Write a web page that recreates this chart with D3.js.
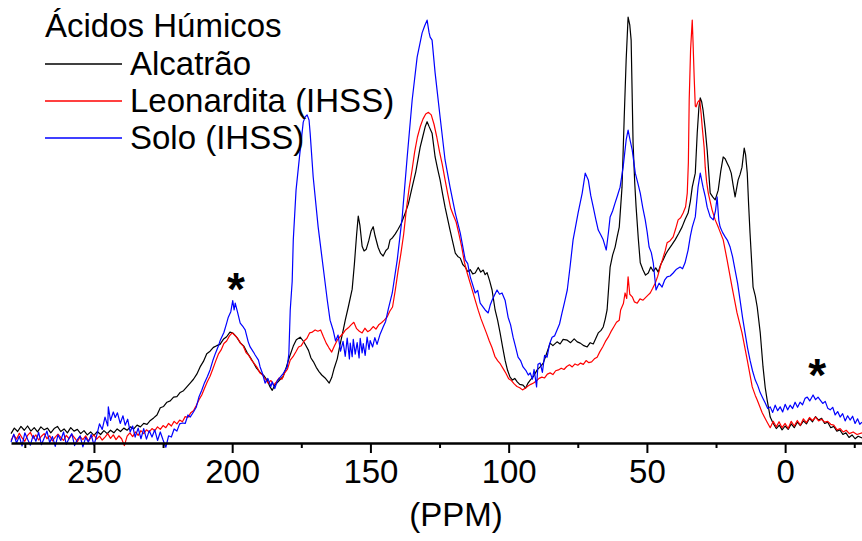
<!DOCTYPE html>
<html>
<head>
<meta charset="utf-8">
<script src="https://cdn.jsdelivr.net/npm/d3@7"></script>
<style>
  body { margin: 0; background: #fff; }
  svg text { font-family: Arial, "Liberation Sans", sans-serif; fill: #000; }
</style>
</head>
<body>
<svg id="chart" width="862" height="541"></svg>
<script>
// [ppm, intensity] (intensity in arbitrary units, 0-100)
const alcatrao = [
  [280,2.2],[278.8,3.5],[277.6,2.7],[276.4,3.9],[275.2,3.0],[274,4.0],[272.8,2.8],[271.6,3.6],[270.4,2.6],[269.2,3.8],
  [268,3.1],[266.8,3.5],[265.6,2.4],[264.4,3.4],[263.2,3.9],[262,2.7],[260.8,3.3],[259.6,2.4],[258.4,3.6],[257.2,2.8],
  [256,3.2],[254.8,2.2],[253.6,2.9],[252.4,1.9],[251.2,2.6],[250,1.8],[248.8,2.7],[247.6,2.0],[246.4,2.9],[245.2,2.2],
  [244,3.0],[242.8,2.4],[241.6,3.3],[240.4,2.7],[239.2,3.5],[238,3.0],[236.8,3.8],[235.6,3.3],[234.4,4.2],[233.2,3.8],
  [232,4.6],[230.8,4.4],[229.6,5.3],[228.4,5.9],[227.2,6.6],[226,8.3],[224.8,8.6],[223.6,9.6],[222.4,9.9],[221.2,10.8],
  [220,10.9],[218.8,11.9],[217.6,12.3],[216.4,13.2],[215.2,14.1],[214,15.0],[212.8,16.2],[211.6,17.9],[210.4,19.2],[209.2,21.0],
  [208,21.6],[206.8,22.5],[205.6,22.9],[204.4,23.2],[203.2,24.4],[202,25.0],[200.8,26.1],[199.6,25.8],[198.4,24.9],[197.1,23.6],
  [195.8,22.8],[194.6,21.3],[193.4,20.1],[192.4,19.0],[191.2,17.6],[189.9,16.6],[188.6,15.9],[187.3,14.7],[186.3,13.2],[185.5,12.4],
  [184.6,13.6],[183.7,14.2],[182.6,15.0],[181.6,15.6],[180.4,17.9],[179.2,20.4],[177.9,22.8],[176.8,24.3],[175.4,24.9],[174.3,24.0],
  [173.4,23.0],[172.4,21.8],[171.5,20.0],[170.6,19.1],[169.6,17.8],[168.6,16.8],[167.6,16.0],[166.4,15.3],[164.9,14.1],[164.0,15.4],
  [163.1,17.6],[162.0,19.8],[161.0,23.1],[159.9,26.4],[159.1,28.9],[158.0,32.0],[156.6,36.2],[155.8,42.1],[155.0,49.0],[154.4,53.4],
  [153.8,51.2],[153.0,46.3],[152.3,45.2],[151.5,45.6],[150.6,47.6],[149.8,49.8],[149.0,50.9],[148.3,48.7],[147.2,46.0],[146.3,44.6],
  [145.4,44.0],[144.4,45.3],[143.6,45.8],[142.9,47.8],[142.0,48.3],[141.0,49.2],[140.0,50.3],[138.9,51.6],[137.4,54.1],[136.3,56.2],
  [134.9,60.2],[133.6,63.8],[132.0,69.6],[131.1,72.0],[130.2,74.4],[129.5,75.6],[128.8,74.5],[127.7,72.9],[126.6,67.3],[125.7,64.5],
  [124.8,61.9],[123.9,58.6],[123.0,55.5],[122.1,52.8],[121.2,50.1],[120.3,47.5],[119.3,44.7],[118.4,43.9],[117.5,43.5],[116.6,42.0],
  [115.7,41.4],[114.8,40.3],[113.9,40.8],[113.0,39.8],[112.1,40.0],[111.0,41.3],[110.1,40.2],[109.2,40.7],[108.5,39.6],[107.8,40.1],
  [106.9,38.2],[106.0,36.0],[104.9,31.3],[104.0,28.9],[103.1,25.9],[102.2,22.6],[101.3,19.5],[100.4,17.1],[99.5,15.5],[98.6,14.8],
  [97.8,15.2],[96.9,14.4],[96.0,13.8],[94.8,13.6],[93.9,12.9],[93.0,14.1],[92.2,14.8],[91.1,15.6],[89.7,17.2],[88.6,17.9],
  [87.5,18.8],[86.3,21.0],[85.0,23.5],[84.0,22.9],[82.5,23.8],[81.4,23.3],[80.3,24.4],[78.8,24.2],[77.6,23.6],[76.3,24.5],
  [75.2,23.8],[74.1,23.5],[72.8,22.9],[71.6,22.6],[70.5,23.6],[69.4,23.3],[68.5,24.6],[67.6,25.9],[66.6,26.5],[65.8,27.3],
  [65.1,29.1],[64.4,31.3],[63.3,41.4],[62.4,44.2],[61.5,46.1],[60.8,48.4],[60.0,50.8],[59.0,60.2],[58.2,76.7],[57.5,90.2],
  [56.8,100.2],[56.2,98.4],[55.7,94.8],[55.0,70.6],[54.4,61.2],[53.9,55.5],[53.1,48.0],[52.4,42.4],[51.4,40.7],[50.5,39.5],
  [49.5,40.0],[48.6,41.4],[47.7,40.4],[46.8,41.2],[45.9,40.2],[45.0,42.0],[44.1,43.1],[43.2,44.4],[42.3,45.4],[41.0,46.6],
  [39.8,47.8],[38.5,49.3],[37.3,50.8],[36.2,52.6],[35.1,54.1],[34.3,56.8],[33.6,60.2],[32.5,63.5],[31.8,72.9],[31.2,78.9],
  [30.7,81.2],[30.2,80.3],[29.7,78.4],[28.9,73.8],[28.2,68.9],[27.1,58.8],[26.2,57.9],[25.3,57.2],[24.2,59.5],[23.3,63.9],
  [22.4,67.3],[21.7,66.9],[21.0,65.9],[20.2,64.8],[19.5,63.5],[18.8,60.6],[18.1,57.9],[17.0,61.9],[16.3,63.2],[15.6,64.9],
  [14.8,69.4],[14.3,67.8],[13.7,63.5],[13.2,56.0],[12.7,49.4],[12.1,42.5],[11.6,36.7],[10.8,34.6],[10.1,32.0],[9.0,25.9],
  [8.0,17.9],[7.2,13.0],[6.5,10.1],[5.4,6.1],[4.3,4.6],[3.2,3.4],[2.1,4.2],[1.1,3.1],[0,4.0],[-1.1,3.2],
  [-2.2,4.5],[-3.3,3.6],[-4.4,4.9],[-5.5,4.1],[-6.6,5.2],[-7.7,4.5],[-8.8,5.8],[-9.9,5.0],[-11.0,6.2],[-12.1,5.4],
  [-13.2,5.8],[-14.3,4.6],[-15.4,4.9],[-16.5,3.6],[-17.6,3.9],[-18.7,2.8],[-19.8,3.1],[-20.9,2.0],[-22.0,2.4],[-23.1,1.3],
  [-24.2,1.9],[-25.3,1.0],[-26.4,1.6],[-27.8,1.2]
];

const leonardita = [
  [280,0.6],[279,1.9],[278,0.9],[277,2.3],[276,1.2],[275,0.4],[274,1.8],[273,2.5],[272,1.1],[271,1.9],
  [270,0.7],[269,1.6],[268,2.2],[267,1.0],[266,1.7],[265,0.5],[264,1.4],[263,2.1],[262,1.3],[261,0.6],
  [260,1.8],[259,1.0],[258,2.0],[257,1.2],[256,0.3],[255,1.5],[254,0.8],[253,1.7],[252,0.5],[251,1.3],
  [250,1.9],[249,0.9],[248,1.6],[247,0.7],[246,1.4],[245,2.2],[244,1.1],[243,1.9],[242,0.8],[241,1.7],
  [240,1.0],[239,-0.6],[238,1.6],[237,2.4],[236,1.5],[235,2.6],[234,1.8],[233,2.9],[232,2.2],[231,3.1],
  [230,2.6],[229,3.4],[228,2.9],[227,3.8],[226,3.2],[225,4.1],[224,3.6],[223,4.6],[222,4.0],[221,5.1],
  [220,4.5],[219,5.4],[218,5.0],[217,6.2],[216,6.0],[215,7.1],[214,7.6],[213,8.8],[212,10.2],[211,11.3],
  [210,12.9],[209,14.4],[208,15.7],[207,17.4],[206,19.2],[205,20.9],[204,21.9],[203,23.4],[202,24.0],[201,25.2],
  [200,25.9],[199,25.3],[198,24.6],[197,23.5],[196,22.8],[195,21.3],[194,20.6],[193,19.5],[192,18.7],[191,17.8],
  [190,16.5],[189,16.0],[188,15.0],[187,14.1],[186,14.7],[185,13.6],[184,14.4],[183,15.3],[182,15.0],[181,16.5],
  [180,17.4],[179,19.5],[178,20.3],[177,21.4],[176,22.6],[175,22.9],[174,24.0],[173,24.6],[172,25.9],[171,26.1],
  [170,26.6],[169,26.3],[168,26.6],[167,25.0],[166,23.5],[165,22.4],[164,21.4],[163,22.9],[162,24.2],[161,25.0],
  [160,25.7],[159,26.6],[158,27.1],[157,27.8],[156,28.4],[155,26.9],[154,26.3],[153,25.9],[152,27.0],[151,26.2],
  [150,26.6],[149,27.4],[148,26.8],[147,27.8],[146,28.3],[145,28.9],[144,29.6],[143,31.0],[142,32.0],[141,36.0],
  [140,40.5],[139,44.5],[138,49.0],[137,55.0],[136,60.0],[135,64.0],[134,68.5],[133,72.0],[132,74.4],[131,76.2],
  [130,77.4],[129,77.8],[128,77.2],[127,75.0],[126,72.0],[125,68.5],[124,65.5],[123,61.9],[122,58.5],[121,55.3],
  [120,53.6],[119,52.0],[118,49.2],[117,46.2],[116,42.5],[115,40.0],[114,37.8],[113,35.6],[112,33.4],[111,31.2],
  [110,29.2],[109,27.5],[108,25.8],[107,24.0],[106,22.4],[105,20.4],[104,19.4],[103,18.6],[102,17.5],[101,16.4],
  [100,15.1],[99,14.7],[98,13.9],[97,13.3],[96,13.0],[95,12.5],[94,12.9],[93,13.4],[92,13.8],[91,14.1],
  [90,14.6],[89,15.2],[88,15.5],[87,15.3],[86,16.2],[85,16.5],[84,16.1],[83,17.0],[82,17.2],[81,17.6],
  [80,17.3],[79,18.0],[78,18.4],[77,17.9],[76,18.6],[75,18.3],[74,18.8],[73,18.5],[72,19.4],[71,18.9],
  [70,19.1],[69,19.8],[68,20.2],[67,21.5],[66,22.6],[65,23.9],[64,24.9],[63,26.2],[62,27.3],[61,28.4],
  [60,28.9],[59.5,31.3],[58.5,32.8],[57.9,35.3],[57.3,34.0],[56.8,39.1],[56.2,35.0],[55.3,34.4],[54.5,33.2],[53.5,32.9],
  [52.5,33.9],[51.4,33.6],[50.5,34.2],[49.6,34.8],[48.8,35.3],[47.9,36.4],[47.0,37.6],[46.1,39.2],[45.2,41.4],[44.2,43.5],
  [43.4,45.2],[42.7,47.1],[41.6,47.6],[40.5,48.5],[39.6,50.4],[38.7,52.5],[37.8,53.0],[36.9,54.1],[36.0,55.6],[35.4,58.8],
  [35.0,66.0],[34.7,80.7],[34.2,92.5],[33.6,99.5],[33.3,94.1],[32.9,86.0],[32.5,79.3],[32.2,79.1],[31.6,80.2],[30.9,80.7],
  [30.4,77.6],[30.0,74.4],[29.3,69.6],[28.9,64.9],[28.4,61.5],[27.8,58.8],[26.4,54.8],[25.3,52.5],[24.2,50.8],[22.4,47.8],
  [21.0,43.1],[19.2,36.7],[17.4,30.6],[15.6,25.9],[13.7,19.5],[11.9,13.2],[10.8,11.2],[10.1,10.1],[8.3,7.1],[6.5,4.9],
  [5.4,3.6],[4.3,5.1],[3.2,3.8],[2.2,5.0],[1.1,3.6],[0,4.6],[-1.1,3.4],[-2.2,5.1],[-3.3,4.0],[-4.4,5.3],
  [-5.5,4.2],[-6.6,5.7],[-7.7,4.8],[-8.8,6.0],[-9.9,5.3],[-11.0,6.1],[-12.1,5.2],[-13.2,5.6],[-14.3,4.9],[-15.4,5.1],
  [-16.5,4.4],[-17.6,4.2],[-18.8,3.1],[-19.9,3.4],[-21.0,2.6],[-22.1,3.0],[-23.2,2.2],[-24.6,2.6],[-26.0,2.0],[-27.8,2.4]
];

const solo = [
  [280,0.2],[279,2.1],[278,0.0],[277,1.6],[276,-0.7],[275,2.4],[274,0.9],[273,-0.5],[272,1.8],[271,0.4],
  [270,2.5],[269,-0.4],[268,1.2],[267,2.8],[266,0.1],[265,1.5],[264,-0.8],[263,1.9],[262,0.6],[261,2.6],
  [260,-0.3],[259,1.1],[258,2.2],[257,-0.6],[256,0.8],[255,1.7],[254,-0.9],[253,1.3],[252,0.2],[251,2.0],
  [250,-0.5],[249,1.8],[248,4.5],[247,3.2],[246,6.1],[245,4.0],[244.8,8.5],[244,5.3],[243,7.3],[242.3,6.0],
  [241.5,7.1],[240.5,4.6],[239.5,6.4],[238.7,4.2],[237.8,5.6],[236.9,2.6],[236,4.0],[235.1,1.4],[234,3.5],[233,1.0],
  [232,3.4],[231,0.9],[230,2.9],[229,1.4],[228,3.1],[227,0.6],[226,2.6],[225,0.7],[224,-1.0],[223,1.7],
  [222,1.4],[221,3.3],[220,2.8],[219,4.5],[218,4.7],[217,4.6],[216,6.6],[215.2,6.1],[214,7.3],[213,8.4],
  [212,10.9],[211,12.4],[210,14.2],[209,15.6],[208,17.2],[207,19.4],[206,21.2],[205,22.8],[204.3,24.2],[203,26.0],
  [202,28.2],[201.4,29.6],[200.5,30.9],[199.8,33.5],[199.3,31.3],[198.9,32.9],[198,30.6],[197.1,28.2],[196,27.3],[195.3,26.6],
  [194.2,23.8],[193.5,22.6],[192.3,21.4],[191.7,20.7],[190.5,19.5],[189.9,17.9],[189,16.3],[188.1,14.1],[187.1,15.2],[186,13.3],
  [185.5,14.4],[184.6,12.8],[183.7,14.6],[182.6,15.5],[181.5,16.4],[180.1,17.9],[179.5,21.0],[179.0,31.3],[178.3,38.0],[177.9,47.8],
  [176.9,59.5],[175.4,68.9],[174.3,75.5],[173.6,76.7],[172.9,77.2],[172.2,76.0],[171.8,72.9],[170.7,62.6],[168.9,50.8],[167.1,41.4],
  [165.6,33.6],[164.6,28.9],[163.5,26.6],[162.6,24.0],[161.7,25.4],[160.8,21.6],[159.9,23.9],[159.1,20.4],[158.4,24.7],[157.6,19.8],
  [157.3,23.5],[156.6,20.3],[156.2,24.4],[155.5,20.9],[154.8,23.6],[154.1,20.0],[153.7,24.6],[153.0,21.2],[152.6,23.4],[151.9,20.6],
  [151.2,24.9],[150.5,22.0],[150.1,24.1],[149.2,22.6],[148.4,24.8],[147.6,23.2],[146.5,25.6],[145.4,27.3],[144.5,28.6],[143.6,31.3],
  [142.1,35.3],[140.3,43.1],[138.5,53.2],[136.7,67.3],[134.9,80.7],[133.1,90.8],[131.3,96.5],[130.4,98.1],[129.5,99.5],[128.8,96.6],
  [128.4,95.5],[127.7,94.8],[126.6,87.1],[124.8,76.7],[123.0,66.6],[121.2,60.2],[119.3,54.1],[117.5,49.4],[115.7,43.1],[114.8,42.2],
  [113.9,39.1],[112.1,35.3],[111.2,35.9],[110.3,32.9],[108.5,31.3],[107.4,30.6],[106.7,32.4],[106.0,33.6],[105.1,34.8],[104.2,36.0],
  [103.3,35.0],[102.4,35.3],[101.3,33.6],[100.2,29.6],[99.3,27.8],[98.4,24.9],[97.5,22.6],[96.6,20.2],[95.7,19.4],[94.8,17.9],
  [93.8,17.1],[92.9,16.0],[92.2,16.5],[91.4,15.0],[90.8,17.3],[90.4,15.5],[89.9,13.2],[89.4,18.5],[88.6,18.8],[87.8,16.6],
  [87.0,20.6],[86.1,20.2],[85.2,23.3],[84.3,24.9],[83.4,25.2],[82.5,26.6],[81.6,28.0],[80.7,30.6],[79.8,33.1],[78.8,36.0],
  [77.8,41.4],[76.7,47.8],[75.8,50.9],[74.9,54.1],[73.4,58.8],[72.3,63.5],[71.2,61.9],[70.3,58.2],[69.4,55.5],[68.5,52.7],
  [67.6,50.1],[66.7,49.0],[65.8,47.8],[64.7,45.4],[63.9,49.6],[63.3,53.2],[62.4,54.6],[61.5,56.5],[60.6,58.3],[59.7,60.2],
  [58.6,64.9],[57.5,71.3],[56.8,73.6],[56.0,71.0],[55.3,68.9],[54.2,63.5],[53.3,61.2],[52.4,58.8],[51.5,55.4],[50.6,52.5],
  [49.9,49.6],[49.2,46.1],[48.4,44.8],[47.7,42.4],[46.7,36.0],[45.6,37.6],[44.5,36.7],[43.6,38.3],[42.7,39.1],[41.6,39.3],
  [40.5,40.0],[39.3,40.9],[38.0,41.4],[37.1,41.0],[36.2,42.4],[35.1,45.4],[34.3,48.6],[33.6,50.8],[32.5,53.2],[31.5,60.2],
  [30.7,63.5],[29.7,60.2],[28.9,58.0],[28.2,55.5],[27.1,53.2],[26.0,52.5],[25.2,54.6],[24.6,57.9],[24.0,52.4],[23.5,50.8],
  [22.6,49.5],[21.7,48.5],[20.8,47.6],[19.9,46.1],[19.0,43.8],[18.1,40.7],[17.2,37.6],[16.3,33.6],[15.4,29.5],[14.5,25.9],
  [13.6,22.4],[12.7,19.5],[11.8,17.0],[10.8,14.8],[9.9,13.5],[9.0,11.8],[8.1,10.6],[7.2,9.4],[6.3,8.1],[5.4,8.5],
  [4.5,7.2],[3.6,8.9],[2.7,7.6],[1.8,8.5],[0.9,7.3],[0,9.1],[-0.9,7.8],[-1.8,8.9],[-2.7,8.1],[-3.6,9.6],
  [-4.5,8.4],[-5.4,9.6],[-6.3,9.0],[-7.2,10.5],[-8.0,10.8],[-8.9,9.9],[-10.1,11.3],[-11.0,10.2],[-11.9,10.8],[-12.7,10.1],
  [-13.6,9.3],[-14.5,9.8],[-15.4,8.2],[-16.3,7.8],[-17.2,8.4],[-18.1,6.6],[-19.0,7.4],[-19.9,6.1],[-20.8,6.9],[-21.7,5.2],
  [-22.6,6.4],[-23.5,5.4],[-24.4,6.3],[-25.3,4.6],[-26.2,5.7],[-27.0,4.4],[-27.8,4.9]
];

const seriesNames = ['Alcatrão', 'Leonardita (IHSS)', 'Solo (IHSS)'];
const seriesColors = ['#000000', '#ff0000', '#0000ff'];
const legendTitle = 'Ácidos Húmicos';
const majorTicks = [250, 200, 150, 100, 50, 0];
const minorTicks = [275, 225, 175, 125, 75, 25, -25];
const xLabel = '(PPM)';
// sideband markers: [ppm, intensity of the text baseline]
const starMarks = [[198.6, 32.5], [-11.6, 12.3]];

const $svg = d3.select('#chart');

const X_RANGE = [11, 862];
const AXIS_Y = 443;
const TOP_Y = 18;
const FONT_SIZE = 33;

const x = d3.scaleLinear().domain([280, -27.8]).range(X_RANGE);
const y = d3.scaleLinear().domain([0, 100]).range([AXIS_Y, TOP_Y]);

function drawChart() {
  const line = d3.line()
    .x(d => x(d[0]))
    .y(d => y(d[1]));

  const allSeries = [alcatrao, leonardita, solo];

  $svg.append('g')
    .selectAll('path')
    .data(allSeries)
    .enter()
    .append('path')
    .attr('d', d => line(d))
    .attr('fill', 'none')
    .attr('stroke', (d, i) => seriesColors[i])
    .attr('stroke-width', 1.2)
    .attr('stroke-linejoin', 'round');

  // minor ticks
  const minorAxis = d3.axisBottom(x)
    .tickValues(minorTicks)
    .tickSize(5)
    .tickSizeOuter(0)
    .tickFormat('');
  $svg.append('g')
    .attr('transform', `translate(0, ${AXIS_Y})`)
    .call(minorAxis)
    .call(g => g.select('.domain').remove())
    .selectAll('line')
    .attr('stroke', '#000')
    .attr('stroke-width', 2);

  const xAxis = d3.axisBottom(x)
    .tickValues(majorTicks)
    .tickSize(10)
    .tickSizeOuter(0);
  const $xAxis = $svg.append('g')
    .attr('transform', `translate(0, ${AXIS_Y})`)
    .call(xAxis);
  $xAxis.select('.domain')
    .attr('stroke', '#000')
    .attr('stroke-width', 2.5);
  $xAxis.selectAll('line')
    .attr('stroke', '#000')
    .attr('stroke-width', 2);
  $xAxis.selectAll('text')
    .attr('y', 40)
    .attr('dy', null)
    .attr('font-size', FONT_SIZE)
    .attr('font-family', 'Arial, "Liberation Sans", sans-serif')
    .attr('fill', '#000');

  $svg.append('text')
    .attr('x', 456)
    .attr('y', 526)
    .attr('text-anchor', 'middle')
    .attr('font-size', FONT_SIZE)
    .text(xLabel);

  $svg.selectAll('.star')
    .data(starMarks)
    .enter()
    .append('text')
    .attr('class', 'star')
    .attr('x', d => x(d[0]))
    .attr('y', d => y(d[1]))
    .attr('text-anchor', 'middle')
    .attr('font-size', 46)
    .attr('font-weight', 'bold')
    .text('*');
}

function drawLegend() {
  const $legend = $svg.append('g');
  $legend.append('text')
    .attr('x', 45)
    .attr('y', 37)
    .attr('font-size', FONT_SIZE)
    .text(legendTitle);

  const rows = $legend.selectAll('.row')
    .data(seriesNames)
    .enter()
    .append('g')
    .attr('class', 'row')
    .attr('transform', (d, i) => `translate(0, ${64 + i * 37})`);

  rows.append('line')
    .attr('x1', 45)
    .attr('x2', 122)
    .attr('stroke', (d, i) => seriesColors[i])
    .attr('stroke-width', 1.5);

  rows.append('text')
    .attr('x', 130)
    .attr('y', 11)
    .attr('font-size', FONT_SIZE)
    .text(d => d);
}

drawChart();
drawLegend();
</script>
</body>
</html>
